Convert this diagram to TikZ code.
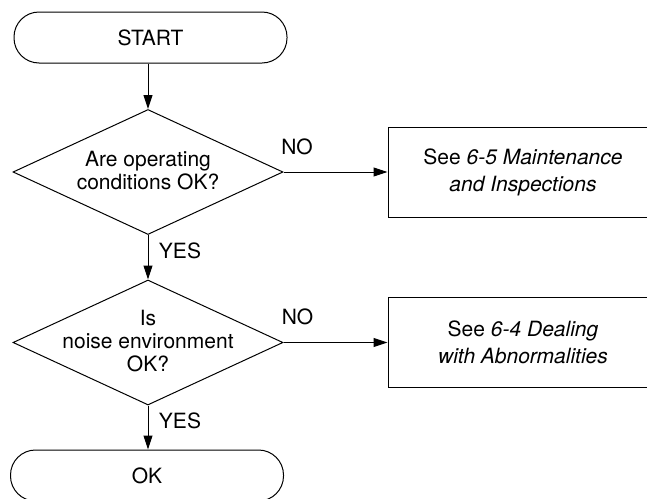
\documentclass[tikz,border=0pt]{standalone}
\usepackage{fontspec}
\setmainfont{TeX Gyre Heros}
\usetikzlibrary{shapes.geometric,arrows.meta}
\tikzset{
  base/.style={font=\fontsize{21}{23}\selectfont, line width=1pt},
  term/.style={base, draw, rounded corners=25pt, minimum width=273pt, minimum height=51pt, inner sep=0pt},
  dec/.style={base, draw, diamond, minimum width=270pt, minimum height=125pt, inner sep=0pt},
  dectext/.style={base, align=center, inner sep=0pt},
  refbox/.style={base, draw, rectangle, minimum width=270pt, minimum height=90pt, inner sep=0pt, align=center, font=\fontsize{21}{27}\selectfont},
  lbl/.style={base, inner sep=0pt},
  arr/.style={line width=1pt, -{Triangle[length=14pt,width=9pt]}}
}
\begin{document}
\begin{tikzpicture}[x=1pt,y=-1pt]
\useasboundingbox (0,0) rectangle (647,498);
\clip (0,0) rectangle (647,498);
\node[term] (start) at (150.5,37.5) {START};
\node[dec] (d1) at (148,172) {};
\node[dectext] (d1t) at (148,171) {Are operating\\conditions OK?};
\node[refbox] (b1) at (523,172) {See \textit{6-5 Maintenance}\\\textit{and Inspections}};
\node[dec] (d2) at (148,342.5) {};
\node[dectext] (d2t) at (148,341.5) {Is\\noise environment\\OK?};
\node[refbox] (b2) at (523,342) {See \textit{6-4 Dealing}\\\textit{with Abnormalities}};
\node[term] (ok) at (147,475.5) {OK};
\node[lbl] (no1) at (297,147) {NO};
\node[lbl] (no2) at (297.5,316.5) {NO};
\node[lbl] (yes1) at (180,250.5) {YES};
\node[lbl] (yes2) at (180,421) {YES};
\draw[arr] (d1.north |- start.south) -- (d1.north);
\draw[arr] (d1.east) -- (b1.west);
\draw[arr] (d1.south) -- (d2.north);
\draw[arr] (d2.east) -- (d2.east -| b2.west);
\draw[arr] (d2.south) -- (d2.south |- ok.north);
\end{tikzpicture}
\end{document}
